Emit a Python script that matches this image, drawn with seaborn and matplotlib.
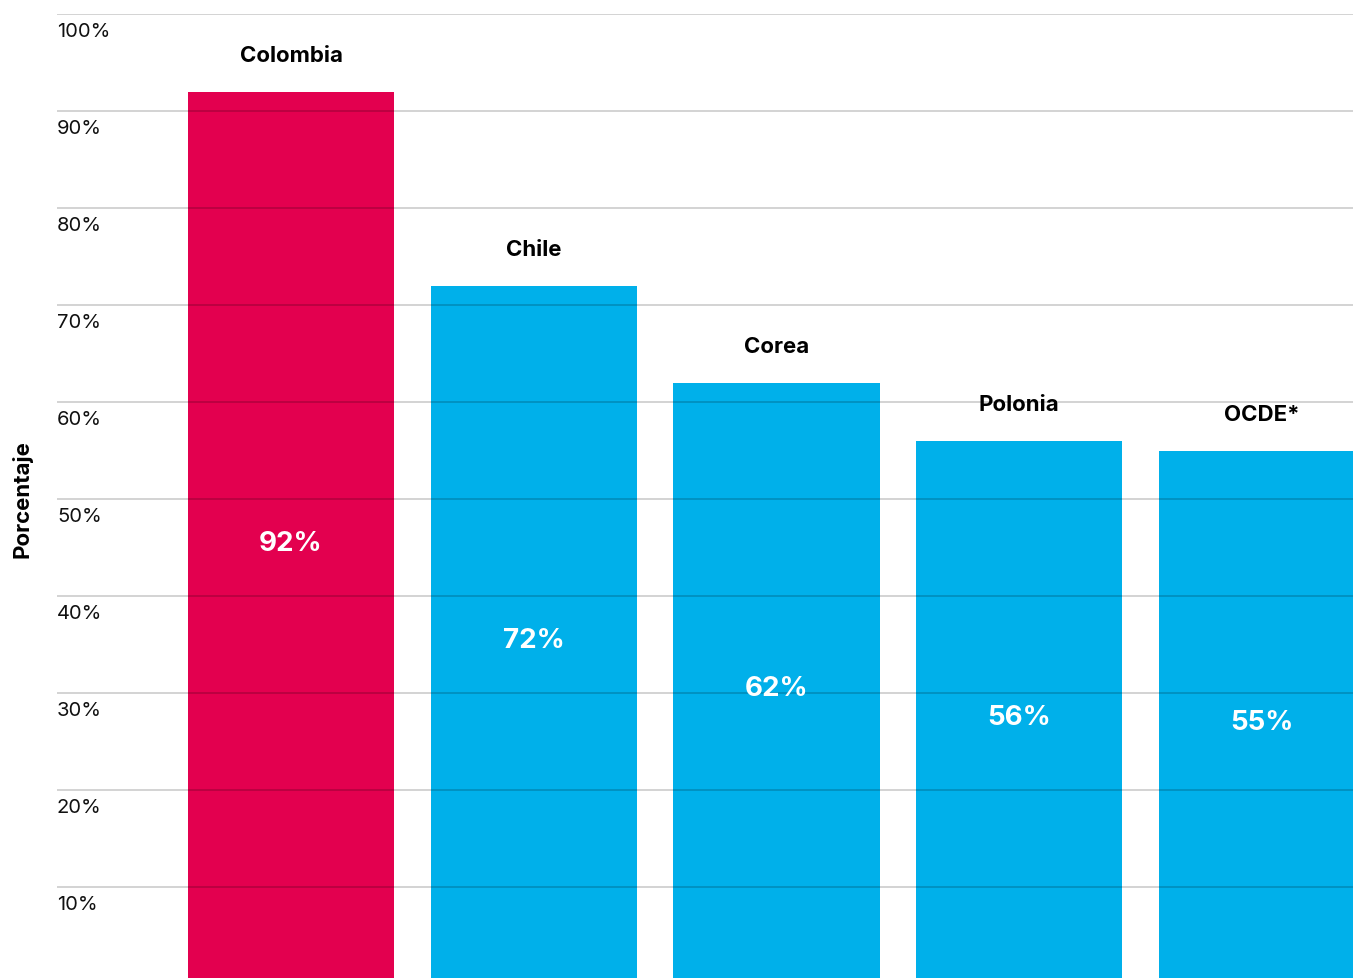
import matplotlib
matplotlib.use("Agg")
import matplotlib.pyplot as plt
import matplotlib.transforms as mtransforms
import seaborn as sns
import pandas as pd

categories = ["Colombia", "Chile", "Corea", "Polonia", "OCDE*"]
values = [92, 72, 62, 56, 55]
bar_colors = ["#E3004F", "#00B0EA", "#00B0EA", "#00B0EA", "#00B0EA"]
yticks = [10, 20, 30, 40, 50, 60, 70, 80, 90, 100]
ytick_labels = ["10%", "20%", "30%", "40%", "50%", "60%", "70%", "80%", "90%", "100%"]

sns.set_theme(style="white")
plt.rcParams["font.family"] = ["Inter", "DejaVu Sans"]

df = pd.DataFrame({"cat": categories, "val": values})

fig = plt.figure(figsize=(13.53, 9.79), dpi=100)
ax = fig.add_axes([57 / 1353, 0, 1 - 57 / 1353, 1 - 15 / 979])

sns.barplot(data=df, x="cat", y="val", hue="cat", palette=bar_colors,
            width=0.85, legend=False, ax=ax, saturation=1, linewidth=0)

ax.set_xlim(-0.964, 4.375)
ax.set_ylim(0.62, 100)
ax.set_yticks(yticks)
ax.set_yticklabels([])
ax.tick_params(left=False, bottom=False, labelbottom=False)
ax.set_xlabel("")
ax.set_ylabel("")
for s in ax.spines.values():
    s.set_visible(False)

ax.set_axisbelow(False)
ax.yaxis.grid(True, color="black", alpha=0.22, linewidth=1.1)
ax.xaxis.grid(False)

trans = mtransforms.blended_transform_factory(ax.transAxes, ax.transData)
for t, lab in zip(yticks, ytick_labels):
    ax.annotate(lab, xy=(0, t), xycoords=trans, xytext=(0, -12.5),
                textcoords="offset points", ha="left", va="center",
                fontsize=14.5, color="#111111", annotation_clip=False)

for i, (c, v) in enumerate(zip(categories, values)):
    ax.text(i, v + 3.8, c, ha="center", va="center", fontsize=16,
            fontweight="bold", color="black", zorder=2)
    ax.text(i, v / 2 - 0.5, f"{v}%", ha="center", va="center", fontsize=20,
            fontweight="bold", color="white", zorder=4)

fig.text(22 / 1353, 1 - 499 / 979, "Porcentaje", rotation=90, ha="center",
         va="center", fontsize=16, fontweight="bold", color="black")

fig.savefig("out.png", dpi=100)
